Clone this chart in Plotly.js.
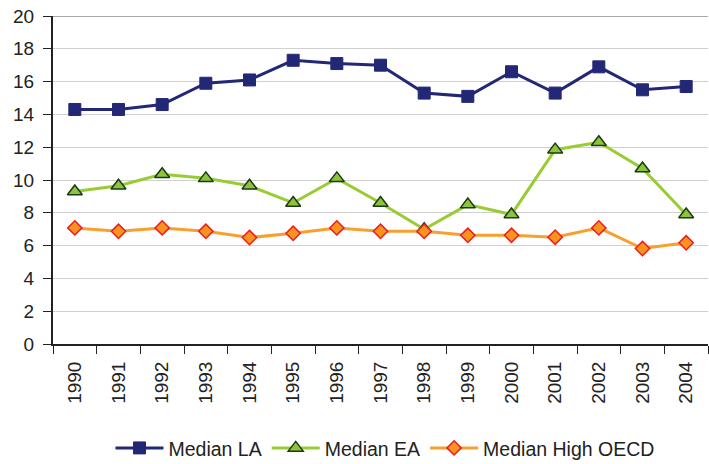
<!DOCTYPE html>
<html>
<head>
<meta charset="utf-8">
<script src="https://cdn.plot.ly/plotly-3.0.1.min.js"></script>
<style>html,body{margin:0;padding:0;background:#fff}#chart{width:709px;height:464px}</style>
</head>
<body>
<div id="chart"></div>
<script>
const years = ["1990","1991","1992","1993","1994","1995","1996","1997","1998","1999","2000","2001","2002","2003","2004"];
const medianLA = [14.3,14.3,14.6,15.9,16.1,17.3,17.1,17.0,15.3,15.1,16.6,15.3,16.9,15.5,15.7];
const medianEA = [9.3,9.65,10.35,10.1,9.65,8.6,10.1,8.6,7.0,8.5,7.9,11.85,12.3,10.7,7.9];
const medianHighOECD = [7.08,6.87,7.08,6.87,6.49,6.75,7.08,6.87,6.87,6.63,6.63,6.51,7.08,5.82,6.17];
const yTicks = [0,2,4,6,8,10,12,14,16,18,20];

const font = "Liberation Sans, Arial, sans-serif";
const traces = [
  {x: years, y: medianLA, name: "Median LA", type: "scatter", mode: "lines+markers",
   line: {color: "#232876", width: 3},
   marker: {symbol: "square", size: 12, color: "#232876", line: {color: "#232876", width: 1}}},
  {x: years, y: medianEA, name: "Median EA", type: "scatter", mode: "lines+markers",
   line: {color: "#99CC33", width: 3},
   marker: {symbol: "triangle-up", size: 13, color: "#8CC43C", line: {color: "#1B3A12", width: 1.5}}},
  {x: years, y: medianHighOECD, name: "Median High OECD", type: "scatter", mode: "lines+markers",
   line: {color: "#F7A030", width: 3},
   marker: {symbol: "diamond", size: 11, color: "#F7941D", line: {color: "#ED1C24", width: 1.5}}}
];
const layout = {
  width: 709, height: 464,
  margin: {l: 53, r: 1, t: 16, b: 120, autoexpand: false},
  paper_bgcolor: "#fff", plot_bgcolor: "#fff",
  font: {family: font, size: 19, color: "#222"},
  showlegend: true,
  legend: {orientation: "h", x: 0.543, xanchor: "center", xref: "container",
           y: 0.034, yanchor: "middle", yref: "container",
           font: {family: font, size: 19.5, color: "#222"}, itemwidth: 48, tracegroupgap: 0},
  xaxis: {type: "category", tickangle: -90, tickson: "boundaries", ticks: "outside", ticklen: 8,
          tickcolor: "#222", showline: true, linecolor: "#222", linewidth: 2, showgrid: false,
          zeroline: false, ticklabelstandoff: 8, automargin: false,
          tickfont: {family: font, size: 19, color: "#222"}, range: [-0.5, 14.5]},
  yaxis: {range: [0, 20], tickvals: yTicks, ticks: "outside", ticklen: 8, tickcolor: "#222",
          showline: true, linecolor: "#222", linewidth: 2, showgrid: true, gridcolor: "#D0D0D0",
          gridwidth: 1, zeroline: false, ticklabelstandoff: 5, automargin: false,
          tickfont: {family: font, size: 19, color: "#222"}},
  shapes: [{type: "line", xref: "paper", x0: 0, x1: 1, yref: "y", y0: 20, y1: 20,
            line: {color: "#8C8C8C", width: 1.5}}]
};
Plotly.newPlot("chart", traces, layout, {displayModeBar: false, staticPlot: true});
</script>
</body>
</html>
